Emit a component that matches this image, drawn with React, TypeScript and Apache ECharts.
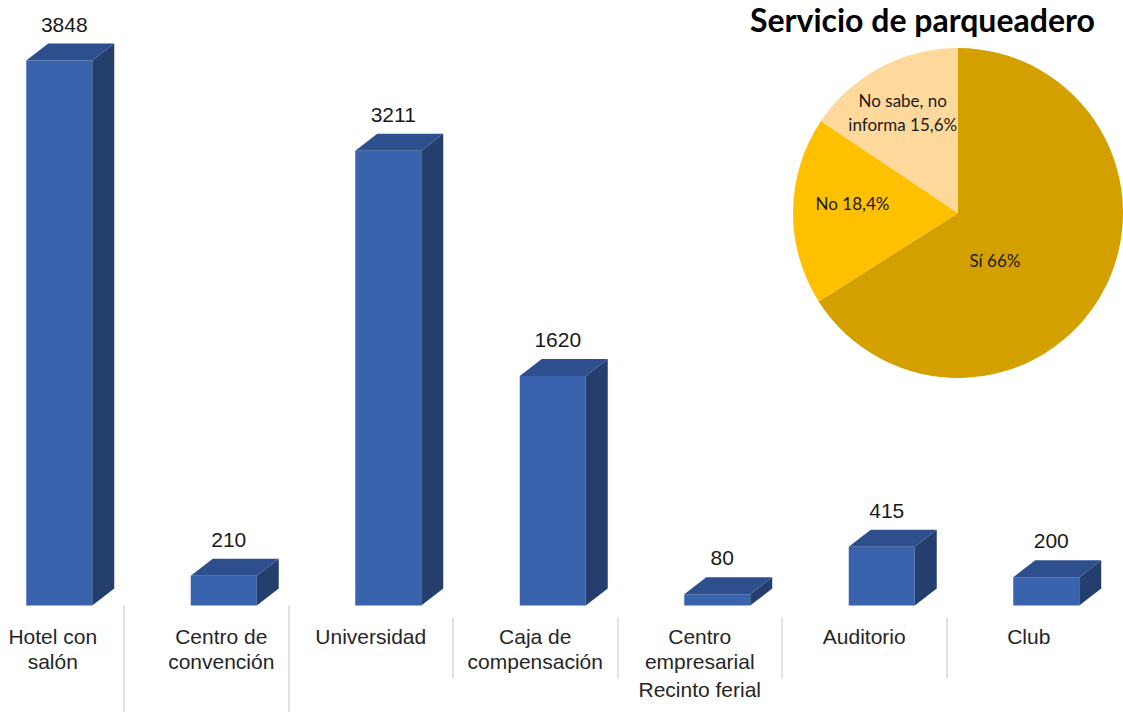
import { useEffect, useRef } from 'react';
import * as echarts from 'echarts';

// ---- data ----
const categories = [
  'Hotel con salón',
  'Centro de convención',
  'Universidad',
  'Caja de compensación',
  'Centro empresarial Recinto ferial',
  'Auditorio',
  'Club',
];
const categoryLabelLines = [
  ['Hotel con', 'salón'],
  ['Centro de', 'convención'],
  ['Universidad'],
  ['Caja de', 'compensación'],
  ['Centro', 'empresarial', 'Recinto ferial'],
  ['Auditorio'],
  ['Club'],
];
const counts = [3848, 210, 3211, 1620, 80, 415, 200];

const pieTitle = 'Servicio de parqueadero';
const pieNames = ['Sí', 'No', 'No sabe, no informa'];
const pieLabelNames = ['Sí', 'No', 'No sabe, no\ninforma'];
const pieShares = [66, 18.4, 15.6];

// ---- styles ----
const pieColors = ['#D4A000', '#FFC000', '#FFD99B'];
const pieLabelOffsets = [[-38, 6], [-20, -8], [-15, -25]];
const labelStyleKeys = ['h', 'c', 'n', 'n', 'n', 'n', 'n'];
const FRONT = '#3A63AE';
const TOP = '#2D4F8E';
const SIDE = '#243F6D';

export default function App() {
  const ref = useRef<HTMLDivElement>(null);
  useEffect(() => {
    document.body.style.margin = '0';
    const chart = echarts.init(ref.current!, null, { renderer: 'svg' });
    const labelFont = { fontFamily: 'Liberation Sans, Arial, sans-serif', fontSize: 21, color: '#262626' };
    const option: any = {
      animation: false,
      backgroundColor: '#ffffff',
      title: {
        text: pieTitle,
        left: 750,
        top: 0,
        padding: 0,
        textStyle: { fontFamily: 'Lato', fontWeight: 'bold', fontSize: 32, lineHeight: 38, color: '#000000' },
      },
      grid: { left: -40.5, top: 39.1, width: 1316, height: 566.4, outerBoundsMode: 'none', containLabel: false },
      xAxis: [
        {
          type: 'category',
          data: categories,
          max: 7,
          position: 'bottom',
          offset: 12,
          axisLine: { show: false },
          axisTick: {
            show: true,
            length: 115,
            interval: (i: number) => i === 1 || i === 2,
            lineStyle: { color: '#D9D9D9', width: 1.5 },
          },
          axisLabel: {
            show: true,
            interval: 0,
            hideOverlap: false,
            margin: 6,
            formatter: (_v: any, idx: number) => {
              const lines = categoryLabelLines[idx];
              if (!lines) return '';
              const key = labelStyleKeys[idx];
              return lines
                .map((l, li) => `{${li === 2 ? 'r' : key}|${l}}`)
                .join('\n');
            },
            rich: {
              n: { ...labelFont, lineHeight: 25 },
              h: { ...labelFont, lineHeight: 25, padding: [0, 0, 0, 22] },
              c: { ...labelFont, lineHeight: 25, padding: [0, 0, 0, 30] },
              r: { ...labelFont, lineHeight: 31 },
            },
          },
        },
        {
          type: 'category',
          data: categories,
          max: 7,
          position: 'bottom',
          offset: 12,
          axisLine: { show: false },
          axisTick: {
            show: true,
            length: 61,
            interval: (i: number) => i >= 3 && i <= 6,
            lineStyle: { color: '#D9D9D9', width: 1.5 },
          },
          axisLabel: { show: false },
        },
      ],
      yAxis: { type: 'value', min: 0, max: 4000, show: false, splitLine: { show: false } },
      series: [
        {
          type: 'custom',
          xAxisIndex: 0,
          yAxisIndex: 0,
          encode: { x: 0, y: 1 },
          data: counts.map((v, i) => [i, v]),
          renderItem: (_params: any, api: any) => {
            const idx = api.value(0);
            const v = api.value(1);
            const top = api.coord([idx, v]);
            const base = api.coord([idx, 0]);
            const cx = top[0];
            const xl = cx - 15.5;
            const xr = cx + 50.5;
            const yt = top[1];
            const yb = base[1];
            const dx = 22;
            const dy = -17;
            return {
              type: 'group',
              children: [
                {
                  type: 'polygon',
                  shape: { points: [[xl, yt], [xr, yt], [xr, yb], [xl, yb]] },
                  style: { fill: FRONT },
                },
                {
                  type: 'polygon',
                  shape: { points: [[xr, yt], [xr + dx, yt + dy], [xr + dx, yb + dy], [xr, yb]] },
                  style: { fill: SIDE },
                },
                {
                  type: 'polygon',
                  shape: { points: [[xl, yt], [xl + dx, yt + dy], [xr + dx, yt + dy], [xr, yt]] },
                  style: { fill: TOP },
                },
                {
                  type: 'text',
                  style: {
                    text: String(v),
                    x: (xl + xr) / 2 + 5,
                    y: yt + dy - 19.5,
                    align: 'center',
                    verticalAlign: 'middle',
                    fill: '#1a1a1a',
                    fontSize: 21,
                    fontFamily: 'Liberation Sans, Arial, sans-serif',
                  },
                },
              ],
            };
          },
        },
        {
          type: 'pie',
          center: [958, 213],
          radius: 165,
          startAngle: 90,
          clockwise: true,
          avoidLabelOverlap: false,
          itemStyle: { borderWidth: 0 },
          label: {
            show: true,
            position: 'inside',
            fontFamily: 'Lato',
            fontSize: 17,
            lineHeight: 24,
            color: '#1a1a1a',
            align: 'center',
          },
          labelLine: { show: false },
          emphasis: { disabled: true },
          data: pieShares.map((v, i) => ({
            name: pieNames[i],
            value: v,
            itemStyle: { color: pieColors[i] },
            label: {
              offset: pieLabelOffsets[i],
              formatter: () => `${pieLabelNames[i]} ${String(v).replace('.', ',')}%`,
            },
          })),
        },
      ],
    };
    chart.setOption(option);
    return () => chart.dispose();
  }, []);
  return <div ref={ref} style={{ width: 1123, height: 712 }} />;
}
